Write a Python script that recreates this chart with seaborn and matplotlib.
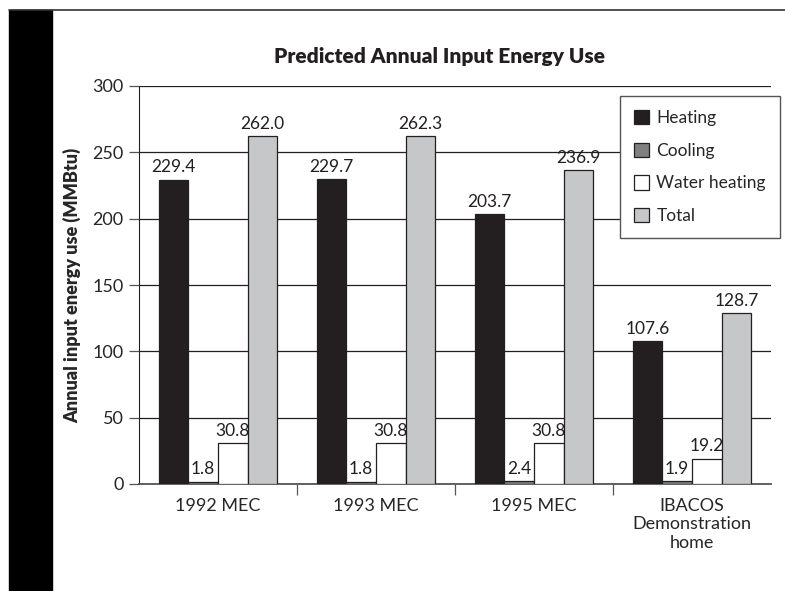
import pandas as pd
import numpy as np
import matplotlib.pyplot as plt
import seaborn as sns
from matplotlib.patches import Rectangle
from matplotlib.lines import Line2D

groups = ["1992 MEC", "1993 MEC", "1995 MEC", "IBACOS\nDemonstration\nhome"]
series = ["Heating", "Cooling", "Water heating", "Total"]
heating = [229.4, 229.7, 203.7, 107.6]
cooling = [1.8, 1.8, 2.4, 1.9]
water_heating = [30.8, 30.8, 30.8, 19.2]
total = [262.0, 262.3, 236.9, 128.7]
colors = ["#231f20", "#808080", "#ffffff", "#c6c7c9"]

df = pd.DataFrame({
    "group": groups * 4,
    "series": np.repeat(series, 4),
    "value": heating + cooling + water_heating + total,
})

sns.set_style("white")
plt.rcParams["font.family"] = ["Lato", "DejaVu Sans"]

fig = plt.figure(figsize=(7.85, 5.91), dpi=100)
ax = fig.add_axes([139 / 785, 1 - 484 / 591, 632 / 785, 398 / 591])

# black strip on the left and rule on top
fig.patches.append(Rectangle((9 / 785, 0), 43 / 785, 1 - 10 / 591,
                             transform=fig.transFigure, color="black", zorder=0))
fig.lines.append(Line2D([9 / 785, 1], [1 - 10 / 591] * 2, transform=fig.transFigure,
                        color="#333333", lw=1.2))

sns.barplot(data=df, x="group", y="value", hue="series", hue_order=series,
            palette=colors, width=0.75, edgecolor="#231f20", linewidth=0.9,
            saturation=1, ax=ax, zorder=3)

for c in ax.containers:
    ax.bar_label(c, fmt="%.1f", padding=3, fontsize=12.5, color="#231f20")

ax.set_ylim(0, 300)
ax.set_xlim(-0.5, 3.5)
ax.set_yticks(range(0, 301, 50))
ax.yaxis.grid(True, color="#231f20", lw=0.9)
ax.set_axisbelow(True)
for s in ["top", "right"]:
    ax.spines[s].set_visible(False)
ax.spines["left"].set_color("#231f20")
ax.spines["bottom"].set_color("#555555")
ax.spines["bottom"].set_linewidth(1.3)

ax.tick_params(axis="y", left=True, length=7, width=0.9, color="#555555",
               labelsize=13, pad=4)
ax.set_xticks([0.5, 1.5, 2.5], minor=True)
ax.tick_params(axis="x", which="major", length=0, labelsize=13, pad=10)
ax.tick_params(axis="x", which="minor", bottom=True, length=8, width=0.9, color="#555555")

ax.set_xlabel("")
ax.set_ylabel("Annual input energy use (MMBtu)", fontsize=13, fontweight="heavy", labelpad=8)
fig.text(440 / 785, 1 - 57 / 591, "Predicted Annual Input Energy Use",
         ha="center", va="center", fontsize=15, fontweight="heavy", color="#231f20")

handles, labels = ax.get_legend_handles_labels()
leg = ax.legend(handles, labels, loc="upper left", bbox_to_anchor=(0.761, 0.975),
                frameon=True, fancybox=False, edgecolor="#555555", fontsize=12.5,
                framealpha=1, handlelength=0.9, handleheight=0.9, handletextpad=0.4,
                labelspacing=0.95, borderpad=0.8, borderaxespad=0)
leg.get_frame().set_linewidth(1.0)
leg.set_zorder(10)

fig.savefig("out.png", dpi=100)
